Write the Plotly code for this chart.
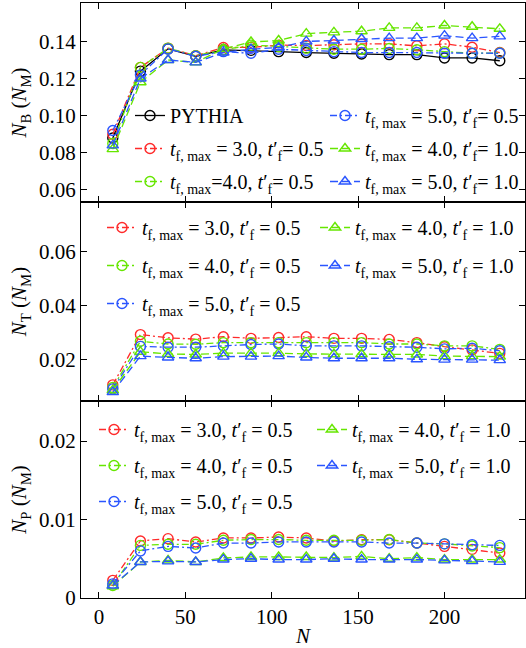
import plotly.graph_objects as go

N = [8, 24, 40, 56, 72, 88, 104, 120, 136, 152, 168, 184, 200, 216, 232]

# Top panel: N_B
NB_pythia = [0.088, 0.124, 0.136, 0.132, 0.1355, 0.1352, 0.1345, 0.1340, 0.1336, 0.1332, 0.1329, 0.1329, 0.1311, 0.1311, 0.1296]
NB_r05 = [0.090, 0.126, 0.1364, 0.1323, 0.1367, 0.1368, 0.1380, 0.1378, 0.1382, 0.1387, 0.1387, 0.1376, 0.1387, 0.1369, 0.1340]
NB_g05 = [0.085, 0.126, 0.1364, 0.1323, 0.1355, 0.1380, 0.1373, 0.1364, 0.1358, 0.1358, 0.1362, 0.1355, 0.1345, 0.1336, 0.1338]
NB_b05 = [0.092, 0.122, 0.1360, 0.1320, 0.1345, 0.1336, 0.1358, 0.1351, 0.1345, 0.1340, 0.1340, 0.1340, 0.1336, 0.1336, 0.1336]
NB_g10 = [0.082, 0.118, 0.1300, 0.1287, 0.1360, 0.1397, 0.1405, 0.1442, 0.1449, 0.1455, 0.1473, 0.1473, 0.1486, 0.1479, 0.1468]
NB_b10 = [0.084, 0.120, 0.1300, 0.1287, 0.1340, 0.1358, 0.1367, 0.1400, 0.1405, 0.1413, 0.1418, 0.1418, 0.1431, 0.1418, 0.1427]

# Middle panel: N_T
NT_r05 = [0.0105, 0.0292, 0.0280, 0.0275, 0.0284, 0.0278, 0.0281, 0.0284, 0.0278, 0.0278, 0.0274, 0.0262, 0.0247, 0.0235, 0.0222]
NT_g05 = [0.0095, 0.0267, 0.0257, 0.0256, 0.0262, 0.0262, 0.0262, 0.0262, 0.0262, 0.0262, 0.0257, 0.0257, 0.0250, 0.0250, 0.0237]
NT_b05 = [0.0090, 0.0248, 0.0245, 0.0245, 0.0250, 0.0255, 0.0257, 0.0250, 0.0250, 0.0250, 0.0247, 0.0245, 0.0239, 0.0241, 0.0232]
NT_g10 = [0.0085, 0.0228, 0.0220, 0.0218, 0.0223, 0.0223, 0.0223, 0.0220, 0.0219, 0.0219, 0.0218, 0.0218, 0.0212, 0.0212, 0.0210]
NT_b10 = [0.0078, 0.0212, 0.0207, 0.0204, 0.0210, 0.0210, 0.0212, 0.0207, 0.0204, 0.0204, 0.0204, 0.0200, 0.0199, 0.0199, 0.0197]

# Bottom panel: N_P
NP_r05 = [0.00225, 0.00727, 0.00756, 0.00714, 0.00765, 0.00765, 0.00777, 0.00765, 0.00725, 0.00743, 0.00743, 0.00700, 0.00658, 0.00620, 0.00573]
NP_g05 = [0.00160, 0.00670, 0.00684, 0.00684, 0.00735, 0.00745, 0.00745, 0.00735, 0.00735, 0.00735, 0.00745, 0.00700, 0.00690, 0.00663, 0.00642]
NP_b05 = [0.00180, 0.00600, 0.00658, 0.00637, 0.00700, 0.00700, 0.00714, 0.00714, 0.00714, 0.00714, 0.00700, 0.00700, 0.00690, 0.00680, 0.00670]
NP_g10 = [0.00150, 0.00459, 0.00480, 0.00459, 0.00510, 0.00523, 0.00523, 0.00523, 0.00515, 0.00530, 0.00500, 0.00515, 0.00490, 0.00490, 0.00490]
NP_b10 = [0.00160, 0.00459, 0.00467, 0.00459, 0.00490, 0.00500, 0.00490, 0.00490, 0.00500, 0.00490, 0.00490, 0.00490, 0.00480, 0.00470, 0.00460]

RED = "#ff2a2a"
GREEN = "#66e600"
BLUE = "#2a55ff"
FONT = "Liberation Serif"
FS = 21
LFS = 20

def lab(tmax, tf, sp1=" = ", sp2=" = "):
    return ("<i>t</i><sub>f, max</sub>" + sp1 + tmax + ", <i>t</i>\u2032<sub>f</sub>" + sp2 + tf)

DD = "7px,3px,2px,3px"
styles = {
    "py": dict(color="black", dash="solid", symbol="circle-open"),
    "r05": dict(color=RED, dash=DD, symbol="circle-open"),
    "g05": dict(color=GREEN, dash=DD, symbol="circle-open"),
    "b05": dict(color=BLUE, dash=DD, symbol="circle-open"),
    "g10": dict(color=GREEN, dash="8px,4px", symbol="triangle-up-open"),
    "b10": dict(color=BLUE, dash="8px,4px", symbol="triangle-up-open"),
}

fig = go.Figure()

def add(y, key, name, ax, legend):
    s = styles[key]
    fig.add_trace(go.Scatter(
        x=N, y=y, mode="lines+markers", name=name,
        xaxis="x" + ("" if ax == 1 else str(ax)),
        yaxis="y" + ("" if ax == 1 else str(ax)),
        line=dict(color=s["color"], dash=s["dash"], width=1.3),
        marker=dict(symbol=s["symbol"], size=10, color=s["color"],
                    line=dict(width=1.4, color=s["color"])),
        legend=legend, legendgroup=name + str(ax),
    ))

# top
add(NB_pythia, "py", "PYTHIA", 1, "legend")
add(NB_r05, "r05", lab("3.0", "0.5", " = ", "= "), 1, "legend")
add(NB_g05, "g05", lab("4.0", "0.5", "=", "= "), 1, "legend")
add(NB_b05, "b05", lab("5.0", "0.5", " = ", "= "), 1, "legend2")
add(NB_g10, "g10", lab("4.0", "1.0", " = ", "= "), 1, "legend2")
add(NB_b10, "b10", lab("5.0", "1.0", " = ", "= "), 1, "legend2")
# middle
add(NT_r05, "r05", lab("3.0", "0.5"), 2, "legend3")
add(NT_g05, "g05", lab("4.0", "0.5"), 2, "legend3")
add(NT_b05, "b05", lab("5.0", "0.5"), 2, "legend3")
add(NT_g10, "g10", lab("4.0", "1.0"), 2, "legend4")
add(NT_b10, "b10", lab("5.0", "1.0"), 2, "legend4")
# bottom
add(NP_r05, "r05", lab("3.0", "0.5"), 3, "legend5")
add(NP_g05, "g05", lab("4.0", "0.5"), 3, "legend5")
add(NP_b05, "b05", lab("5.0", "0.5"), 3, "legend5")
add(NP_g10, "g10", lab("4.0", "1.0"), 3, "legend6")
add(NP_b10, "b10", lab("5.0", "1.0"), 3, "legend6")

H_TOP, H_BOT = 3, 598
def py2paper(p):
    return (H_BOT - p) / (H_BOT - H_TOP)
def px2paper(p):
    return (p - 81) / (525 - 81)

b1 = py2paper(202)
b2 = py2paper(401)

xcommon = dict(range=[-10.4, 246.6], showline=True, linecolor="black", linewidth=1.2,
               mirror="ticks", ticks="inside", ticklen=6, tickcolor="black",
               tickvals=[0, 50, 100, 150, 200], showgrid=False, zeroline=False,
               tickfont=dict(family=FONT, size=FS, color="black"))
ycommon = dict(showline=True, linecolor="black", linewidth=1.2, mirror="ticks",
               ticks="inside", ticklen=6, tickcolor="black", showgrid=False,
               zeroline=False, tickfont=dict(family=FONT, size=FS, color="black"),
               title_standoff=6)

def ytitle(sub):
    return dict(text="<i>N</i><sub>" + sub + "</sub> (<i>N</i><sub>M</sub>)",
                font=dict(family=FONT, size=FS, color="black"))

def legend_at(xp, ytop, gap):
    return dict(x=px2paper(xp), y=py2paper(ytop), xanchor="left", yanchor="top",
                bgcolor="rgba(0,0,0,0)", font=dict(family=FONT, size=LFS, color="black"),
                traceorder="grouped", tracegroupgap=gap, itemwidth=30,
                borderwidth=0)

fig.update_layout(
    width=526, height=648,
    margin=dict(l=81, r=1, t=3, b=50, autoexpand=False),
    paper_bgcolor="white", plot_bgcolor="white",
    font=dict(family=FONT, size=FS, color="black"),
    showlegend=True,
    xaxis=dict(xcommon, anchor="y", showticklabels=False),
    xaxis2=dict(xcommon, anchor="y2", matches="x", showticklabels=False),
    xaxis3=dict(xcommon, anchor="y3", matches="x",
                title=dict(text="<i>N</i>", font=dict(family=FONT, size=FS), standoff=2)),
    yaxis=dict(ycommon, domain=[b1, 1], range=[0.0535, 0.1607], anchor="x",
               tickvals=[0.06, 0.08, 0.10, 0.12, 0.14], ticktext=["0.06", "0.08", "0.10", "0.12", "0.14"],
               title=ytitle("B")),
    yaxis2=dict(ycommon, domain=[b2, b1], range=[0.0045, 0.0785], anchor="x2",
                tickvals=[0.02, 0.04, 0.06], ticktext=["0.02", "0.04", "0.06"],
                title=ytitle("T")),
    yaxis3=dict(ycommon, domain=[0, b2], range=[0, 0.0251], anchor="x3",
                tickvals=[0, 0.01, 0.02], ticktext=["0", "0.01", "0.02"],
                title=ytitle("P")),
    legend=legend_at(130, 96, 4),
    legend2=legend_at(325, 96, 4),
    legend3=legend_at(102, 208, 9),
    legend4=legend_at(315, 208, 9),
    legend5=legend_at(94, 410, 7),
    legend6=legend_at(312, 410, 7),
)

fig.write_html("out.html")
